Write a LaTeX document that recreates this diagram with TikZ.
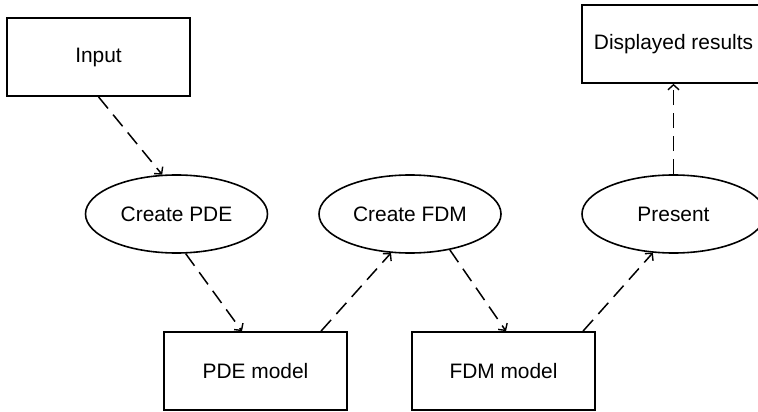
\documentclass[tikz,border=0pt]{standalone}
\usepackage{fontspec}
\setmainfont{Liberation Sans}
\usetikzlibrary{shapes.geometric,arrows.meta}
\begin{document}
\begin{tikzpicture}[x=1pt,y=-1pt,
  font=\fontsize{20.9}{25}\selectfont,
  box/.style={draw,line width=1.7pt,rectangle,minimum width=183pt,minimum height=78pt,inner sep=0pt},
  oval/.style={draw,line width=1.6pt,ellipse,minimum width=182pt,minimum height=78pt,inner sep=0pt},
  link/.style={line width=1.5pt,dash pattern=on 15pt off 8pt,-{Straight Barb[length=5pt,width=11pt,line width=1.4pt]}}]
\clip (0,0) rectangle (758,412);
\node[box] (in) at (98.5,57) {Input};
\node[box] (disp) at (673.5,44) {Displayed results};
\node[oval] (cpde) at (176.5,214) {Create PDE};
\node[oval] (cfdm) at (410,214) {Create FDM};
\node[oval,minimum width=183pt] (pres) at (673.5,214) {Present};
\node[box] (pdem) at (255.5,371) {PDE model};
\node[box] (fdmm) at (503.5,371) {FDM model};
\draw[link] (in.south) -- (cpde.110.6);
\draw[link] (cpde.-77.6) -- ([xshift=-13.5pt]pdem.north);
\draw[link] ([xshift=65.5pt]pdem.north) -- (cfdm.244.8);
\draw[link] (cfdm.-42) -- ([xshift=2.5pt]fdmm.north);
\draw[link] ([xshift=79.5pt]fdmm.north) -- (pres.242.2);
\draw[link] (pres.north) -- (disp.south);
\end{tikzpicture}
\end{document}
